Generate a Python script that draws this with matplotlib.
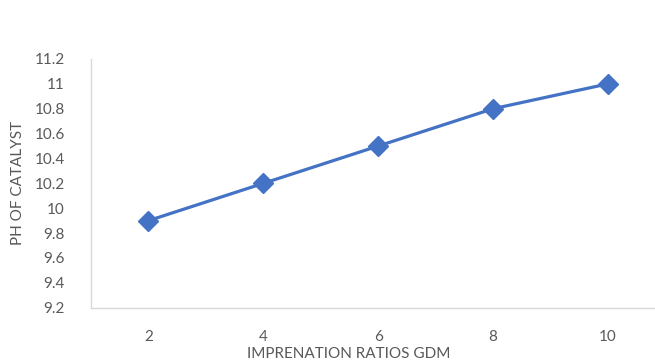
import matplotlib
matplotlib.use("Agg")
import matplotlib.pyplot as plt

# data
ratios = [2, 4, 6, 8, 10]
ph_values = [9.9, 10.2, 10.5, 10.8, 11.0]
y_ticks = [9.2, 9.4, 9.6, 9.8, 10.0, 10.2, 10.4, 10.6, 10.8, 11.0, 11.2]
y_tick_labels = ["9.2", "9.4", "9.6", "9.8", "10", "10.2", "10.4", "10.6", "10.8", "11", "11.2"]

plt.rcParams["font.family"] = ["Lato", "DejaVu Sans"]
grey = "#595959"

fig = plt.figure(figsize=(6.55, 3.63), dpi=100)
ax = fig.add_axes([91 / 655, 55.3 / 363, 564 / 655, 248.7 / 363])

ax.plot(ratios, ph_values, color="#4472C4", lw=2.3, marker="D", markersize=10.5,
        solid_capstyle="round", clip_on=False, zorder=3)

ax.set_xlim(1, 10.82)
ax.set_ylim(9.2, 11.2)
ax.set_xticks(ratios)
ax.set_xticklabels([str(r) for r in ratios])
ax.set_yticks(y_ticks)
ax.set_yticklabels(y_tick_labels)
ax.tick_params(length=0, labelsize=11, colors=grey)
ax.tick_params(axis="x", pad=16)
ax.tick_params(axis="y", pad=19)

for side in ["top", "right"]:
    ax.spines[side].set_visible(False)
for side in ["left", "bottom"]:
    ax.spines[side].set_color("#D9D9D9")
    ax.spines[side].set_linewidth(1.0)

fig.text(18 / 655, 1 - 183 / 363, "PH OF CATALYST", rotation=90, ha="center", va="center",
         fontsize=11, color=grey)
fig.text(349 / 655, 1 - 354 / 363, "IMPRENATION RATIOS GDM", ha="center", va="center",
         fontsize=11, color=grey)

fig.savefig("out.png", dpi=100)
